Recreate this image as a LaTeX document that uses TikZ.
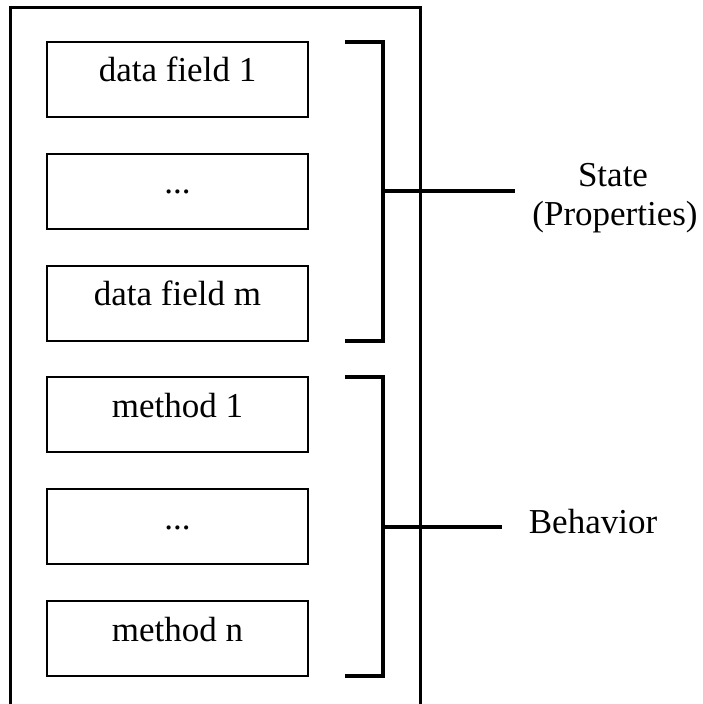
\documentclass[tikz,border=0pt]{standalone}
\usepackage{fontspec}
\setmainfont{Liberation Serif}
\begin{document}
\begin{tikzpicture}[x=0.5pt, y=-0.5pt,
  every node/.style={font=\fontsize{17.5pt}{20pt}\selectfont, inner sep=0pt},
  member/.style={draw, line width=1.2pt, minimum width=130.5pt, minimum height=37.5pt,
                 text height=12pt, text depth=9.5pt},
  frame/.style={line width=1.5pt},
  brace/.style={line width=1.6pt, line join=miter},
  label/.style={anchor=base}]
  \useasboundingbox (0,0) rectangle (702,704);

  % object outline, open at the lower edge
  \coordinate (oBL) at (10,704);
  \coordinate (oTL) at (10,8);
  \coordinate (oTR) at (420,8);
  \coordinate (oBR) at (420,704);
  \draw[frame] (oBL) -- (oTL) -- (oTR) -- (oBR);

  % data fields and methods
  \node[member] (f1) at (177.5,79.5)  {data field 1};
  \node[member] (f2) at (177.5,191.5) {...};
  \node[member] (f3) at (177.5,303.5) {data field m};
  \node[member] (m1) at (177.5,414.5) {method 1};
  \node[member] (m2) at (177.5,526.5) {...};
  \node[member] (m3) at (177.5,638.5) {method n};

  % labels
  \node[label] (state) at (613,187) {State};
  \node[label] (props) at (615,226) {(Properties)};
  \node[label] (behav) at (593,533) {Behavior};

  % bracket around the data fields
  \coordinate (sA) at (345,42);
  \coordinate (sB) at (383,42);
  \coordinate (sC) at (383,341);
  \coordinate (sD) at (345,341);
  \coordinate (sM) at (383,191);
  \coordinate (sE) at (515,191);
  \draw[brace] (sA) -- (sB) -- (sC) -- (sD);
  \draw[brace] (sM) -- (sE);

  % bracket around the methods
  \coordinate (bA) at (345,377);
  \coordinate (bB) at (383,377);
  \coordinate (bC) at (383,676);
  \coordinate (bD) at (345,676);
  \coordinate (bM) at (383,527);
  \coordinate (bE) at (502,527);
  \draw[brace] (bA) -- (bB) -- (bC) -- (bD);
  \draw[brace] (bM) -- (bE);
\end{tikzpicture}
\end{document}
